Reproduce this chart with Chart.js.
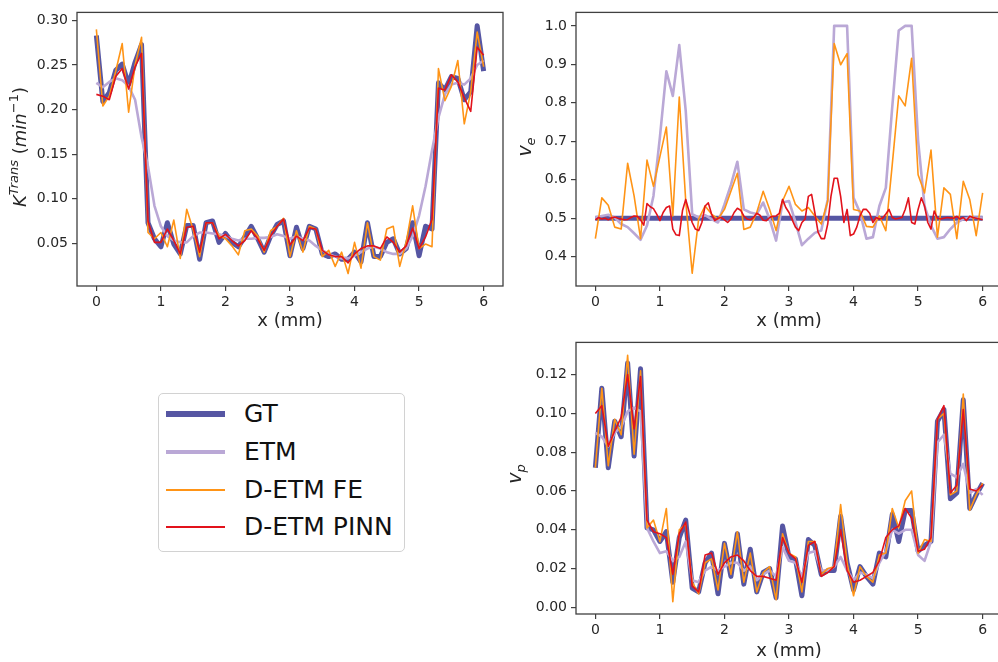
<!DOCTYPE html>
<html>
<head>
<meta charset="utf-8">
<script src="https://cdn.jsdelivr.net/npm/chart.js@4.4.1/dist/chart.umd.min.js"></script>
<style>
  html, body { margin: 0; background: #fff; width: 998px; height: 662px; overflow: hidden; }
  #wrap { position: relative; width: 998px; height: 662px; overflow: hidden; }
  canvas { position: absolute; }
  #legend { position: absolute; left: 158px; top: 393px; width: 245px; height: 157px;
    border: 1px solid #d2d2d2; border-radius: 5px; box-sizing: content-box; }
  .row { position: absolute; left: 0; height: 30px; width: 245px; }
  .swatch { position: absolute; left: 7px; width: 59px; }
  .name { position: absolute; left: 85px; top: 0; line-height: 30px; font: 25px "DejaVu Sans", sans-serif; color: #111; white-space: nowrap; }
</style>
</head>
<body>
<div id="wrap">
  <canvas id="kt" width="520" height="340" style="left:0;top:0"></canvas>
  <canvas id="ve" width="510" height="340" style="left:500px;top:0"></canvas>
  <canvas id="vp" width="510" height="340" style="left:500px;top:330px"></canvas>
  <div id="legend"></div>
</div>
<script>
// sample positions (mm)
const xGrid = [0, 0.1, 0.2, 0.3, 0.4, 0.5, 0.6, 0.7, 0.8, 0.9, 1, 1.1, 1.2, 1.3, 1.4, 1.5, 1.6, 1.7, 1.8, 1.9,
  2, 2.1, 2.2, 2.3, 2.4, 2.5, 2.6, 2.7, 2.8, 2.9, 3, 3.1, 3.2, 3.3, 3.4, 3.5, 3.6, 3.7, 3.8, 3.9,
  4, 4.1, 4.2, 4.3, 4.4, 4.5, 4.6, 4.7, 4.8, 4.9, 5, 5.1, 5.2, 5.3, 5.4, 5.5, 5.6, 5.7, 5.8, 5.9, 6]
const xFine = [0, 0.05, 0.1, 0.15, 0.2, 0.25, 0.3, 0.35, 0.4, 0.45, 0.5, 0.55, 0.6, 0.65, 0.7, 0.75, 0.8, 0.85, 0.9, 0.95,
  1, 1.05, 1.1, 1.15, 1.2, 1.25, 1.3, 1.35, 1.4, 1.45, 1.5, 1.55, 1.6, 1.65, 1.7, 1.75, 1.8, 1.85, 1.9, 1.95,
  2, 2.05, 2.1, 2.15, 2.2, 2.25, 2.3, 2.35, 2.4, 2.45, 2.5, 2.55, 2.6, 2.65, 2.7, 2.75, 2.8, 2.85, 2.9, 2.95,
  3, 3.05, 3.1, 3.15, 3.2, 3.25, 3.3, 3.35, 3.4, 3.45, 3.5, 3.55, 3.6, 3.65, 3.7, 3.75, 3.8, 3.85, 3.9, 3.95,
  4, 4.05, 4.1, 4.15, 4.2, 4.25, 4.3, 4.35, 4.4, 4.45, 4.5, 4.55, 4.6, 4.65, 4.7, 4.75, 4.8, 4.85, 4.9, 4.95,
  5, 5.05, 5.1, 5.15, 5.2, 5.25, 5.3, 5.35, 5.4, 5.45, 5.5, 5.55, 5.6, 5.65, 5.7, 5.75, 5.8, 5.85, 5.9, 5.95, 6]
const xTicks = [0, 1, 2, 3, 4, 5, 6]

const seriesNames = ['GT', 'ETM', 'D-ETM FE', 'D-ETM PINN']

// K^Trans
const ktGT = [0.283, 0.209, 0.219, 0.244, 0.251, 0.228, 0.253, 0.273, 0.073, 0.055, 0.046, 0.073, 0.049, 0.038, 0.070, 0.070, 0.032, 0.073, 0.075, 0.051,
  0.061, 0.051, 0.046, 0.057, 0.069, 0.055, 0.040, 0.058, 0.071, 0.075, 0.036, 0.068, 0.044, 0.069, 0.066, 0.038, 0.035, 0.038, 0.032, 0.032,
  0.040, 0.029, 0.073, 0.035, 0.035, 0.051, 0.055, 0.038, 0.044, 0.073, 0.036, 0.069, 0.066, 0.230, 0.222, 0.237, 0.235, 0.211, 0.220, 0.294, 0.243]
const ktETM = [0.230, 0.225, 0.231, 0.235, 0.233, 0.226, 0.211, 0.169, 0.136, 0.092, 0.069, 0.058, 0.053, 0.051, 0.051, 0.058, 0.062, 0.062, 0.061, 0.060,
  0.058, 0.055, 0.053, 0.055, 0.055, 0.056, 0.056, 0.057, 0.060, 0.058, 0.055, 0.058, 0.055, 0.053, 0.047, 0.042, 0.038, 0.035, 0.033, 0.033,
  0.036, 0.040, 0.044, 0.046, 0.044, 0.040, 0.038, 0.038, 0.044, 0.058, 0.081, 0.114, 0.154, 0.191, 0.217, 0.228, 0.230, 0.228, 0.235, 0.250, 0.255]
const ktFE = [0.290, 0.204, 0.215, 0.243, 0.274, 0.197, 0.250, 0.281, 0.062, 0.055, 0.062, 0.046, 0.076, 0.033, 0.088, 0.065, 0.035, 0.073, 0.073, 0.058,
  0.055, 0.047, 0.037, 0.064, 0.066, 0.058, 0.040, 0.064, 0.069, 0.078, 0.035, 0.064, 0.040, 0.069, 0.066, 0.035, 0.042, 0.024, 0.040, 0.016,
  0.051, 0.022, 0.073, 0.035, 0.031, 0.066, 0.069, 0.024, 0.051, 0.092, 0.044, 0.049, 0.046, 0.246, 0.210, 0.226, 0.255, 0.184, 0.220, 0.287, 0.248]
const ktPINN = [0.217, 0.215, 0.211, 0.237, 0.246, 0.223, 0.248, 0.263, 0.075, 0.051, 0.051, 0.066, 0.053, 0.038, 0.068, 0.069, 0.040, 0.073, 0.073, 0.055,
  0.060, 0.053, 0.047, 0.053, 0.064, 0.055, 0.042, 0.058, 0.069, 0.077, 0.048, 0.058, 0.053, 0.067, 0.066, 0.042, 0.037, 0.035, 0.035, 0.028,
  0.038, 0.044, 0.047, 0.047, 0.044, 0.057, 0.051, 0.040, 0.047, 0.067, 0.044, 0.057, 0.077, 0.224, 0.222, 0.239, 0.231, 0.213, 0.198, 0.270, 0.261]
const ktTicks = [0.05, 0.10, 0.15, 0.20, 0.25, 0.30]

// v_e
const veGT = [0.5, 0.5, 0.5, 0.5, 0.5, 0.5, 0.5, 0.5, 0.5, 0.5, 0.5, 0.5, 0.5, 0.5, 0.5, 0.5, 0.5, 0.5, 0.5, 0.5,
  0.5, 0.5, 0.5, 0.5, 0.5, 0.5, 0.5, 0.5, 0.5, 0.5, 0.5, 0.5, 0.5, 0.5, 0.5, 0.5, 0.5, 0.5, 0.5, 0.5,
  0.5, 0.5, 0.5, 0.5, 0.5, 0.5, 0.5, 0.5, 0.5, 0.5, 0.5, 0.5, 0.5, 0.5, 0.5, 0.5, 0.5, 0.5, 0.5, 0.5, 0.5]
const veETM = [0.502, 0.506, 0.509, 0.502, 0.485, 0.477, 0.461, 0.444, 0.481, 0.558, 0.711, 0.882, 0.818, 0.950, 0.779, 0.511, 0.502, 0.508, 0.498, 0.489,
  0.536, 0.587, 0.647, 0.523, 0.515, 0.511, 0.541, 0.498, 0.442, 0.541, 0.545, 0.490, 0.430, 0.447, 0.462, 0.468, 0.549, 1.0, 1.0, 1.0,
  0.553, 0.515, 0.447, 0.451, 0.532, 0.579, 0.790, 0.988, 1.0, 1.0, 0.702, 0.532, 0.481, 0.447, 0.451, 0.472, 0.489, 0.498, 0.502, 0.502, 0.502]
const veFE = [0.447, 0.553, 0.534, 0.477, 0.472, 0.643, 0.558, 0.447, 0.651, 0.583, 0.660, 0.737, 0.506, 0.815, 0.545, 0.357, 0.498, 0.532, 0.511, 0.498,
  0.523, 0.570, 0.617, 0.471, 0.477, 0.515, 0.570, 0.523, 0.468, 0.545, 0.583, 0.536, 0.519, 0.528, 0.506, 0.485, 0.545, 0.954, 0.899, 0.928,
  0.523, 0.519, 0.479, 0.477, 0.506, 0.468, 0.640, 0.818, 0.792, 0.916, 0.613, 0.566, 0.677, 0.451, 0.579, 0.562, 0.447, 0.596, 0.549, 0.455, 0.566]
const vePINN = [0.496, 0.502, 0.498, 0.500, 0.496, 0.501, 0.503, 0.500, 0.498, 0.496, 0.497, 0.502, 0.506, 0.505, 0.496, 0.482, 0.538, 0.530, 0.525, 0.511,
  0.494, 0.515, 0.528, 0.532, 0.472, 0.457, 0.455, 0.520, 0.549, 0.519, 0.489, 0.472, 0.468, 0.489, 0.532, 0.540, 0.511, 0.494, 0.500, 0.502,
  0.496, 0.489, 0.498, 0.515, 0.526, 0.521, 0.506, 0.498, 0.496, 0.502, 0.513, 0.508, 0.495, 0.494, 0.502, 0.505, 0.506, 0.513, 0.549, 0.528,
  0.515, 0.496, 0.477, 0.468, 0.489, 0.498, 0.557, 0.562, 0.515, 0.464, 0.447, 0.447, 0.485, 0.557, 0.604, 0.604, 0.557, 0.489, 0.523, 0.455,
  0.459, 0.477, 0.506, 0.523, 0.523, 0.513, 0.489, 0.502, 0.498, 0.500, 0.511, 0.523, 0.502, 0.498, 0.500, 0.502, 0.523, 0.553, 0.489, 0.485,
  0.523, 0.553, 0.532, 0.489, 0.472, 0.519, 0.500, 0.498, 0.500, 0.502, 0.501, 0.500, 0.505, 0.498, 0.502, 0.494, 0.505, 0.502, 0.500, 0.498, 0.496]
const veTicks = [0.4, 0.5, 0.6, 0.7, 0.8, 0.9, 1.0]

// v_p
const vpGT = [0.072, 0.113, 0.072, 0.096, 0.088, 0.126, 0.078, 0.123, 0.041, 0.040, 0.034, 0.039, 0.013, 0.036, 0.045, 0.010, 0.008, 0.023, 0.028, 0.007,
  0.033, 0.016, 0.038, 0.012, 0.030, 0.008, 0.018, 0.020, 0.005, 0.042, 0.026, 0.025, 0.006, 0.035, 0.032, 0.017, 0.019, 0.019, 0.047, 0.023,
  0.009, 0.021, 0.016, 0.012, 0.028, 0.026, 0.048, 0.034, 0.050, 0.050, 0.029, 0.032, 0.034, 0.096, 0.102, 0.056, 0.059, 0.107, 0.051, 0.058, 0.064]
const vpETM = [0.090, 0.088, 0.083, 0.090, 0.093, 0.101, 0.103, 0.101, 0.041, 0.034, 0.028, 0.029, 0.024, 0.026, 0.034, 0.014, 0.013, 0.019, 0.021, 0.019,
  0.021, 0.023, 0.023, 0.019, 0.021, 0.014, 0.017, 0.019, 0.016, 0.031, 0.024, 0.023, 0.016, 0.028, 0.029, 0.019, 0.019, 0.021, 0.026, 0.019,
  0.014, 0.018, 0.017, 0.015, 0.023, 0.029, 0.040, 0.038, 0.040, 0.040, 0.027, 0.024, 0.034, 0.085, 0.089, 0.069, 0.067, 0.074, 0.059, 0.061, 0.058]
const vpFE = [0.072, 0.113, 0.073, 0.097, 0.089, 0.130, 0.079, 0.122, 0.041, 0.045, 0.034, 0.051, 0.003, 0.040, 0.043, 0.013, 0.007, 0.023, 0.025, 0.009,
  0.033, 0.017, 0.039, 0.013, 0.028, 0.008, 0.018, 0.021, 0.004, 0.038, 0.028, 0.026, 0.008, 0.034, 0.034, 0.017, 0.020, 0.021, 0.053, 0.023,
  0.006, 0.021, 0.016, 0.013, 0.027, 0.028, 0.051, 0.041, 0.055, 0.060, 0.028, 0.035, 0.034, 0.097, 0.100, 0.058, 0.060, 0.110, 0.050, 0.058, 0.064]
const vpPINN = [0.100, 0.104, 0.083, 0.091, 0.098, 0.120, 0.092, 0.119, 0.045, 0.039, 0.038, 0.036, 0.017, 0.038, 0.044, 0.011, 0.008, 0.027, 0.028, 0.017,
  0.023, 0.026, 0.027, 0.024, 0.019, 0.016, 0.016, 0.015, 0.014, 0.036, 0.028, 0.025, 0.013, 0.032, 0.034, 0.016, 0.018, 0.021, 0.040, 0.019,
  0.013, 0.014, 0.016, 0.018, 0.024, 0.036, 0.040, 0.042, 0.051, 0.046, 0.029, 0.030, 0.036, 0.097, 0.104, 0.059, 0.063, 0.102, 0.061, 0.060, 0.063]
const vpTicks = [0.00, 0.02, 0.04, 0.06, 0.08, 0.10, 0.12]

const colors = ['#5656a3', '#baa8d6', '#ff9416', '#e2121b']
const lineWidths = [5, 2.6, 1.6, 1.6]
const legendWidths = [6.5, 3.5, 2.5, 2.5]
const FONT = '"DejaVu Sans", "Noto Sans", sans-serif'
const INK = '#262626'
const SPINE = '#404040'

// box round the plot area, like matplotlib spines
const framePlugin = {
  id: 'frame',
  afterDatasetsDraw(chart) {
    const { ctx, chartArea: a } = chart
    ctx.save()
    ctx.strokeStyle = SPINE
    ctx.lineWidth = 1.3
    ctx.strokeRect(a.left, a.top, a.right - a.left, a.bottom - a.top)
    ctx.restore()
  }
}

// rotated y label with sub/superscripts
const yLabelPlugin = {
  id: 'yLabel',
  afterDraw(chart, args, opts) {
    if (!opts || !opts.parts) return
    const { ctx } = chart
    const fontOf = p => `${p.italic ? 'italic ' : ''}${p.size}px ${FONT}`
    ctx.save()
    ctx.translate(opts.x, opts.y)
    ctx.rotate(-Math.PI / 2)
    ctx.fillStyle = INK
    ctx.textBaseline = 'alphabetic'
    let total = 0
    opts.parts.forEach(p => { ctx.font = fontOf(p); total += ctx.measureText(p.t).width })
    let cx = -total / 2
    opts.parts.forEach(p => {
      ctx.font = fontOf(p)
      ctx.fillText(p.t, cx, p.dy || 0)
      cx += ctx.measureText(p.t).width
    })
    ctx.restore()
  }
}

function makeChart(id, cfg) {
  const datasets = cfg.series.map((s, i) => ({
    label: seriesNames[i],
    data: s.x.map((x, k) => ({ x, y: s.y[k] })),
    borderColor: colors[i],
    borderWidth: lineWidths[i],
    pointRadius: 0,
    tension: 0,
    fill: false,
    borderJoinStyle: 'round',
    order: 4 - i,
  }))
  const tickGrid = { display: true, drawOnChartArea: false, drawTicks: true, tickLength: 5, color: SPINE, lineWidth: 1.2 }
  return new Chart(document.getElementById(id).getContext('2d'), {
    type: 'line',
    data: { datasets },
    options: {
      responsive: false,
      animation: false,
      layout: { padding: cfg.padding },
      plugins: {
        legend: { display: false },
        tooltip: { enabled: false },
        yLabel: cfg.yLabel,
      },
      scales: {
        x: {
          type: 'linear', min: -0.3, max: 6.3,
          afterBuildTicks: s => { s.ticks = xTicks.map(v => ({ value: v })) },
          afterFit: s => { s.height = 50 },
          border: { display: false },
          grid: tickGrid,
          ticks: { color: INK, font: { family: FONT, size: 14 }, padding: 3, maxRotation: 0, autoSkip: false, callback: v => String(v) },
          title: { display: true, text: 'x (mm)', color: INK, font: { family: FONT, size: 18 }, padding: { top: 0, bottom: cfg.titlePad } },
        },
        y: {
          type: 'linear', min: cfg.yMin, max: cfg.yMax,
          afterBuildTicks: s => { s.ticks = cfg.yTicks.map(v => ({ value: v })) },
          afterFit: s => { s.width = cfg.yWidth },
          border: { display: false },
          grid: tickGrid,
          ticks: { color: INK, font: { family: FONT, size: 14 }, padding: 4, autoSkip: false, callback: v => Number(v).toFixed(cfg.digits) },
        },
      },
    },
    plugins: [framePlugin, yLabelPlugin],
  })
}

makeChart('kt', {
  series: [{ x: xGrid, y: ktGT }, { x: xGrid, y: ktETM }, { x: xGrid, y: ktFE }, { x: xGrid, y: ktPINN }],
  yMin: 0.002, yMax: 0.309, yTicks: ktTicks, digits: 2, yWidth: 77,
  padding: { left: 0, top: 8, right: 17, bottom: 4 }, titlePad: 4,
  yLabel: { x: 26, y: 147, parts: [
    { t: 'K', italic: true, size: 18 },
    { t: 'Trans', italic: true, size: 13, dy: -8 },
    { t: ' (', size: 18 },
    { t: 'min', italic: true, size: 18 },
    { t: '\u22121', size: 13, dy: -8 },
    { t: ')', size: 18 },
  ] },
})

makeChart('ve', {
  series: [{ x: xGrid, y: veGT }, { x: xGrid, y: veETM }, { x: xGrid, y: veFE }, { x: xFine, y: vePINN }],
  yMin: 0.324, yMax: 1.035, yTicks: veTicks, digits: 1, yWidth: 76,
  padding: { left: 0, top: 8, right: 8, bottom: 4 }, titlePad: 4,
  yLabel: { x: 31, y: 147, parts: [
    { t: 'v', italic: true, size: 19 },
    { t: 'e', italic: true, size: 13, dy: 4 },
  ] },
})

makeChart('vp', {
  series: [{ x: xGrid, y: vpGT }, { x: xGrid, y: vpETM }, { x: xGrid, y: vpFE }, { x: xGrid, y: vpPINN }],
  yMin: -0.0034, yMax: 0.1366, yTicks: vpTicks, digits: 2, yWidth: 76,
  padding: { left: 0, top: 6, right: 8, bottom: 6 }, titlePad: 2,
  yLabel: { x: 21, y: 144, parts: [
    { t: 'v', italic: true, size: 19 },
    { t: 'p', italic: true, size: 13, dy: 4 },
  ] },
})

// legend box
const legend = document.getElementById('legend')
const rowTops = [5, 43, 81, 118]
seriesNames.forEach((name, i) => {
  const row = document.createElement('div')
  row.className = 'row'
  row.style.top = rowTops[i] + 'px'
  const sw = document.createElement('div')
  sw.className = 'swatch'
  sw.style.height = legendWidths[i] + 'px'
  sw.style.top = (15 - legendWidths[i] / 2) + 'px'
  sw.style.background = colors[i]
  const label = document.createElement('div')
  label.className = 'name'
  label.textContent = name
  row.appendChild(sw)
  row.appendChild(label)
  legend.appendChild(row)
})
</script>
</body>
</html>
